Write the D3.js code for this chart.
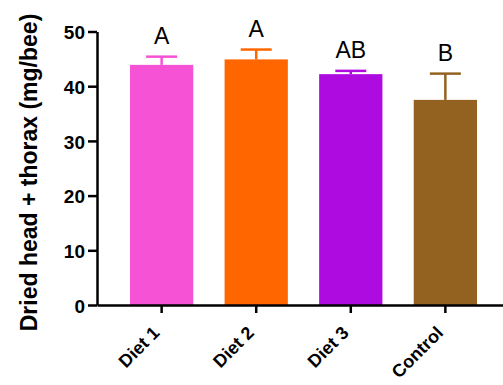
<!DOCTYPE html>
<html><head><meta charset="utf-8">
<script src="https://cdn.jsdelivr.net/npm/d3@7"></script>
<style>body{margin:0;background:#fff}svg{display:block}</style>
</head><body>
<svg id="c" width="503" height="385"></svg>
<script>
const categories = ["Diet 1", "Diet 2", "Diet 3", "Control"];
const means = [43.9, 44.9, 42.2, 37.5];
const errors = [1.5, 1.8, 0.6, 4.8];
const letters = ["A", "A", "AB", "B"];
const colors = ["#F652D6", "#FF6600", "#AE0BE0", "#936220"];
const yTicks = [0, 10, 20, 30, 40, 50];

const FONT = "Liberation Sans, Arial, sans-serif";
const svg = d3.select("#c");
const x = d3.scaleBand().domain(categories).range([97, 510]).paddingInner(0.331).paddingOuter(0.349);
const y = d3.scaleLinear().domain([0, 50]).range([305, 31.5]);

// bars
svg.selectAll("rect.bar").data(categories).join("rect")
  .attr("x", d => x(d)).attr("width", x.bandwidth())
  .attr("y", (d, i) => y(means[i])).attr("height", (d, i) => y(0) - y(means[i]))
  .attr("fill", (d, i) => colors[i]);

// error bars
const capW = 31;
categories.forEach((d, i) => {
  const cx = x(d) + x.bandwidth() / 2;
  svg.append("line").attr("x1", cx).attr("x2", cx)
    .attr("y1", y(means[i])).attr("y2", y(means[i] + errors[i]))
    .attr("stroke", colors[i]).attr("stroke-width", 2.5);
  svg.append("line").attr("x1", cx - capW / 2).attr("x2", cx + capW / 2)
    .attr("y1", y(means[i] + errors[i])).attr("y2", y(means[i] + errors[i]))
    .attr("stroke", colors[i]).attr("stroke-width", 2.5);
  svg.append("text").attr("x", cx).attr("y", y(means[i] + errors[i]) - 12.5)
    .attr("text-anchor", "middle").attr("font-family", FONT)
    .attr("font-size", 23).attr("fill", "#000").text(letters[i]);
});

// y axis
const ya = svg.append("g").attr("transform", "translate(97,0)")
  .call(d3.axisLeft(y).tickValues(yTicks).tickSize(9).tickSizeOuter(0).tickPadding(3));
ya.select(".domain").attr("stroke", "#000").attr("stroke-width", 2.5);
ya.selectAll(".tick line").attr("stroke", "#000").attr("stroke-width", 2.5);
ya.selectAll(".tick text").attr("font-family", FONT)
  .attr("font-weight", "bold").attr("font-size", 19).attr("fill", "#000").attr("dy", "0.38em");

// x axis
const xa = svg.append("g").attr("transform", "translate(0,305)")
  .call(d3.axisBottom(x).tickSize(8).tickSizeOuter(0));
xa.select(".domain").attr("stroke", "#000").attr("stroke-width", 2.5);
xa.selectAll(".tick line").attr("stroke", "#000").attr("stroke-width", 2.5);
xa.selectAll(".tick text").attr("font-family", FONT)
  .attr("font-weight", "bold").attr("font-size", 18).attr("fill", "#000")
  .attr("text-anchor", "end").attr("dy", 0).attr("y", 0).attr("x", 0)
  .attr("transform", "translate(-1,29) rotate(-45)");

// y title
svg.append("text").attr("transform", "translate(37,172.5) rotate(-90)")
  .attr("text-anchor", "middle").attr("font-family", FONT)
  .attr("font-weight", "bold").attr("font-size", 23).attr("fill", "#000")
  .text("Dried head + thorax (mg/bee)");
</script>
</body></html>
